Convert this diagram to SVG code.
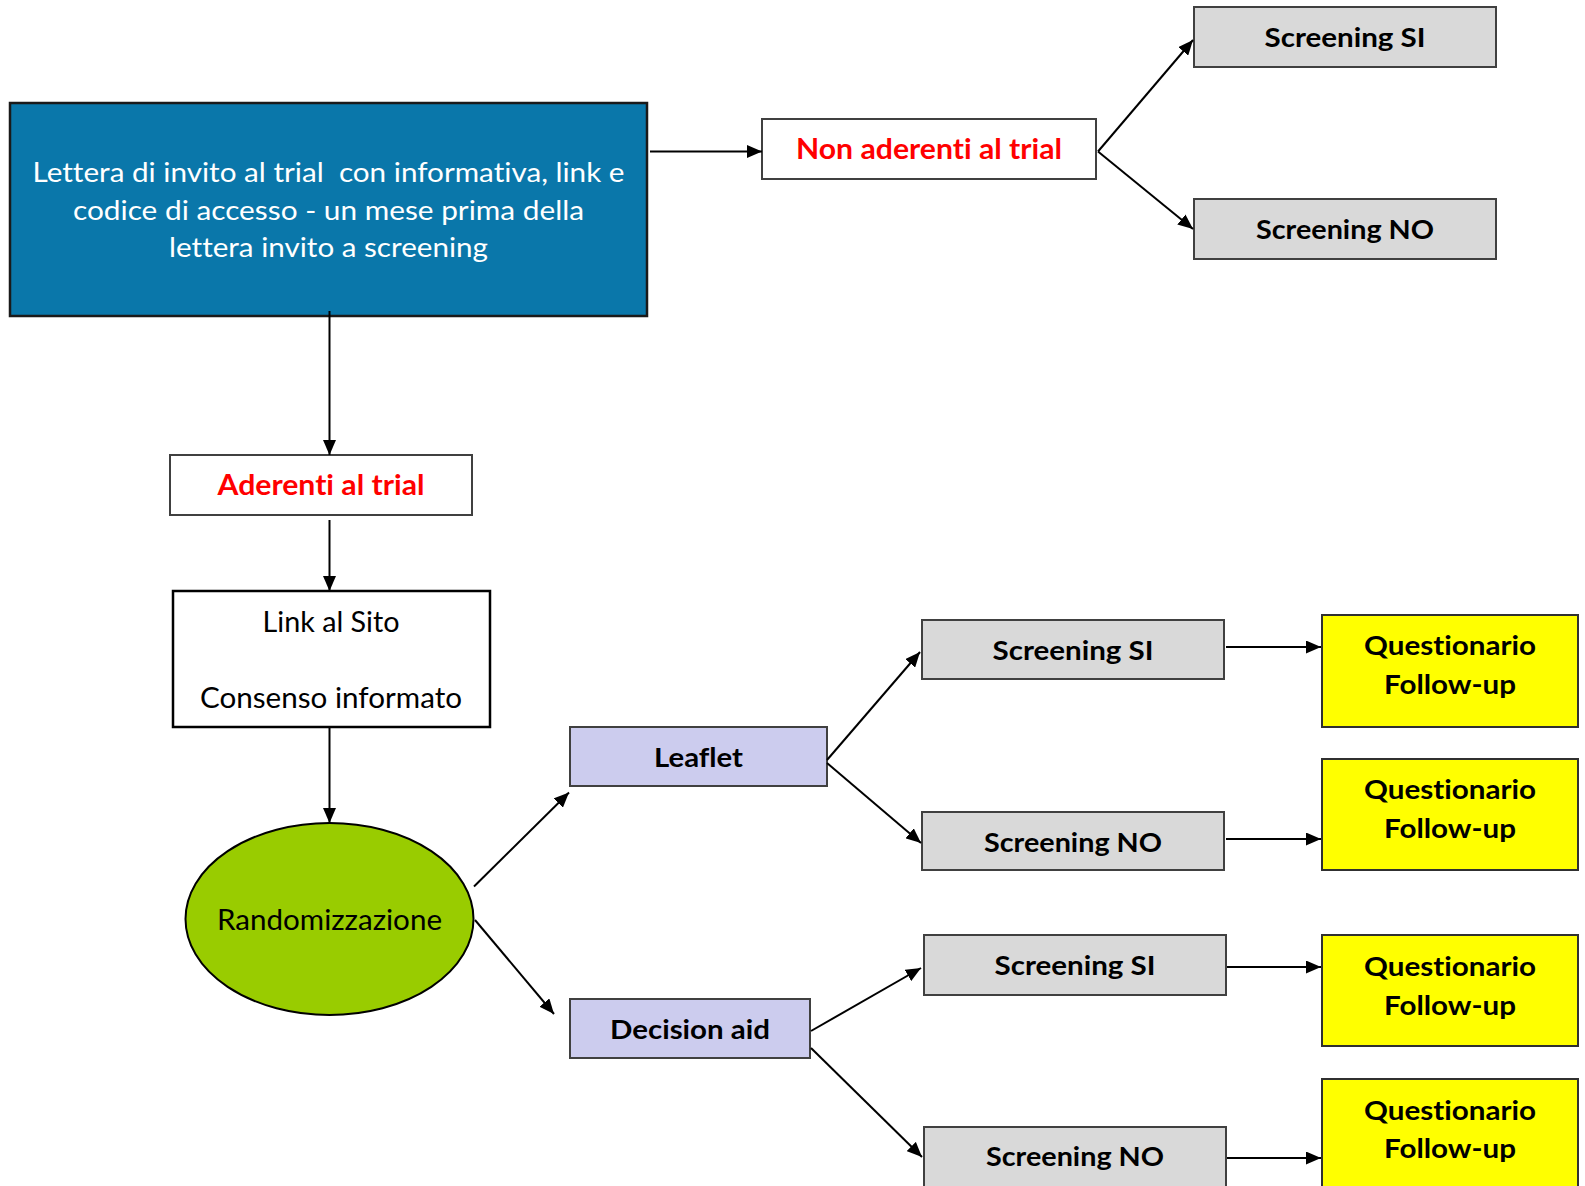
<svg xmlns="http://www.w3.org/2000/svg" width="1585" height="1186" viewBox="0 0 1585 1186">
<style>
text{font-family:Lato,"Open Sans","Liberation Sans",sans-serif;text-anchor:middle;font-variant-ligatures:none;}
.b{font-weight:bold;font-size:27px;fill:#000;}
.r{font-weight:bold;font-size:28px;fill:#ff0000;}
.n{font-size:28px;fill:#000;}
.w{font-size:26px;fill:#fff;}
.grey{fill:#d9d9d9;stroke:#404040;stroke-width:2;}
.wbox{fill:#fff;stroke:#404040;stroke-width:2;}
.lav{fill:#ccccee;stroke:#404040;stroke-width:2;}
.yel{fill:#ffff00;stroke:#303030;stroke-width:2;}
.con line{stroke:#000;stroke-width:2;marker-end:url(#ah);}
</style>
<defs>
<marker id="ah" markerUnits="userSpaceOnUse" viewBox="0 0 15 13" markerWidth="15" markerHeight="13" refX="15" refY="6.5" orient="auto">
<path d="M0,0 L15,6.5 L0,13 z" fill="#000"/>
</marker>
</defs>
<rect width="1585" height="1186" fill="#fff"/>

<g id="n-lettera">
<rect x="10" y="103" width="637" height="213" fill="#0a77aa" stroke="#1a1a1a" stroke-width="2.5"/>
<text class="w" x="328.5" y="182" textLength="592" lengthAdjust="spacingAndGlyphs">Lettera di invito al trial&#160; con informativa, link e</text>
<text class="w" x="328.5" y="220" textLength="511" lengthAdjust="spacingAndGlyphs">codice di accesso - un mese prima della</text>
<text class="w" x="328.5" y="257" textLength="319" lengthAdjust="spacingAndGlyphs">lettera invito a screening</text>
</g>

<g id="n-nonaderenti">
<rect class="wbox" x="762" y="119" width="334" height="60"/>
<text class="r" x="929" y="159" textLength="266" lengthAdjust="spacingAndGlyphs">Non aderenti al trial</text>
</g>

<g id="n-top-si">
<rect class="grey" x="1194" y="7" width="302" height="60"/>
<text class="b" x="1345" y="47" textLength="161" lengthAdjust="spacingAndGlyphs">Screening SI</text>
</g>

<g id="n-top-no">
<rect class="grey" x="1194" y="199" width="302" height="60"/>
<text class="b" x="1345" y="239" textLength="178" lengthAdjust="spacingAndGlyphs">Screening NO</text>
</g>

<g id="n-aderenti">
<rect class="wbox" x="170" y="455" width="302" height="60"/>
<text class="r" x="321" y="495" textLength="207" lengthAdjust="spacingAndGlyphs">Aderenti al trial</text>
</g>

<g id="n-link">
<rect x="173" y="591" width="317" height="136" fill="#fff" stroke="#000" stroke-width="2.5"/>
<text class="n" x="331" y="632" textLength="137" lengthAdjust="spacingAndGlyphs">Link al Sito</text>
<text class="n" x="331" y="708" textLength="262" lengthAdjust="spacingAndGlyphs">Consenso informato</text>
</g>

<g id="n-random">
<ellipse cx="329.5" cy="919" rx="144" ry="96" fill="#99cc00" stroke="#000" stroke-width="2"/>
<text class="n" x="329.5" y="930" textLength="225" lengthAdjust="spacingAndGlyphs">Randomizzazione</text>
</g>

<g id="n-leaflet">
<rect class="lav" x="570" y="727" width="257" height="59"/>
<text class="b" x="698.5" y="767" textLength="89" lengthAdjust="spacingAndGlyphs">Leaflet</text>
</g>

<g id="n-decision">
<rect class="lav" x="570" y="999" width="240" height="59"/>
<text class="b" x="690" y="1039" textLength="160" lengthAdjust="spacingAndGlyphs">Decision aid</text>
</g>

<g id="n-mid-si">
<rect class="grey" x="922" y="620" width="302" height="59"/>
<text class="b" x="1073" y="660" textLength="161" lengthAdjust="spacingAndGlyphs">Screening SI</text>
</g>

<g id="n-mid-no">
<rect class="grey" x="922" y="812" width="302" height="58"/>
<text class="b" x="1073" y="852" textLength="178" lengthAdjust="spacingAndGlyphs">Screening NO</text>
</g>

<g id="n-low-si">
<rect class="grey" x="924" y="935" width="302" height="60"/>
<text class="b" x="1075" y="975" textLength="161" lengthAdjust="spacingAndGlyphs">Screening SI</text>
</g>

<g id="n-low-no">
<rect class="grey" x="924" y="1127" width="302" height="70"/>
<text class="b" x="1075" y="1166" textLength="178" lengthAdjust="spacingAndGlyphs">Screening NO</text>
</g>

<g id="n-q1">
<rect class="yel" x="1322" y="615" width="256" height="112"/>
<text class="b" x="1450" y="655" textLength="172" lengthAdjust="spacingAndGlyphs">Questionario</text>
<text class="b" x="1450" y="694" textLength="132" lengthAdjust="spacingAndGlyphs">Follow-up</text>
</g>

<g id="n-q2">
<rect class="yel" x="1322" y="759" width="256" height="111"/>
<text class="b" x="1450" y="799" textLength="172" lengthAdjust="spacingAndGlyphs">Questionario</text>
<text class="b" x="1450" y="838" textLength="132" lengthAdjust="spacingAndGlyphs">Follow-up</text>
</g>

<g id="n-q3">
<rect class="yel" x="1322" y="935" width="256" height="111"/>
<text class="b" x="1450" y="976" textLength="172" lengthAdjust="spacingAndGlyphs">Questionario</text>
<text class="b" x="1450" y="1015" textLength="132" lengthAdjust="spacingAndGlyphs">Follow-up</text>
</g>

<g id="n-q4">
<rect class="yel" x="1322" y="1079" width="256" height="120"/>
<text class="b" x="1450" y="1120" textLength="172" lengthAdjust="spacingAndGlyphs">Questionario</text>
<text class="b" x="1450" y="1158" textLength="132" lengthAdjust="spacingAndGlyphs">Follow-up</text>
</g>

<g id="connectors" class="con">
<line x1="650" y1="151.5" x2="762" y2="151.5"/>
<line x1="1098" y1="151.5" x2="1193" y2="40"/>
<line x1="1098" y1="151.5" x2="1193" y2="229"/>
<line x1="329.5" y1="311" x2="329.5" y2="455"/>
<line x1="329.5" y1="520" x2="329.5" y2="591"/>
<line x1="329.5" y1="727" x2="329.5" y2="823"/>
<line x1="474" y1="886.5" x2="569" y2="792.5"/>
<line x1="475" y1="920" x2="554" y2="1014"/>
<line x1="827" y1="760" x2="920" y2="652"/>
<line x1="827" y1="763" x2="921" y2="843"/>
<line x1="811" y1="1031" x2="921" y2="968"/>
<line x1="811" y1="1048" x2="922" y2="1157"/>
<line x1="1226" y1="647" x2="1321" y2="647"/>
<line x1="1226" y1="839" x2="1321" y2="839"/>
<line x1="1227" y1="967" x2="1321" y2="967"/>
<line x1="1227" y1="1158" x2="1321" y2="1158"/>
</g>
</svg>
